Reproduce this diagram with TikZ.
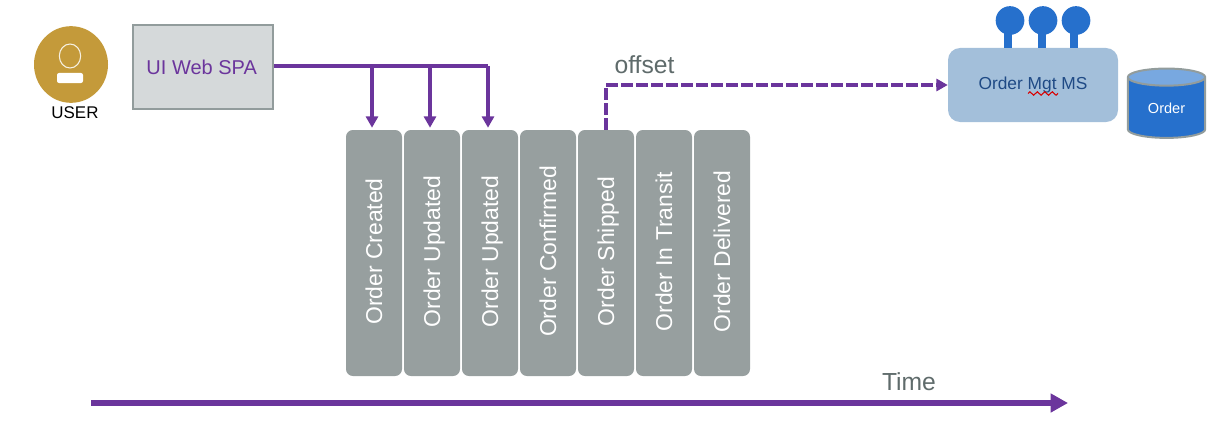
\documentclass[tikz,border=0pt]{standalone}
\usepackage{fontspec}
\setmainfont{Liberation Sans}
\usetikzlibrary{arrows.meta, shapes.geometric, decorations.pathmorphing}
\definecolor{flowpurple}{HTML}{6B359C}
\definecolor{bargray}{HTML}{979F9F}
\definecolor{edgegray}{HTML}{929C9C}
\definecolor{uifill}{HTML}{D5D9DA}
\definecolor{usergold}{HTML}{C49A3A}
\definecolor{msfill}{HTML}{A3BFDA}
\definecolor{mstext}{HTML}{1F4A85}
\definecolor{pinblue}{HTML}{2670CC}
\definecolor{dbtop}{HTML}{78A8E0}
\definecolor{labelgray}{HTML}{5F6B6B}
\newcommand{\eventlabel}[1]{\rotatebox{90}{\rule{0pt}{12pt}\hspace*{2.25pt}\smash{#1}}}
\tikzstyle{eventnode} = [rectangle, rounded corners=5.2pt,
minimum width=42pt,
minimum height=184.5pt,
inner sep=0pt,
text centered,
fill=bargray,
text=white,
font=\fontsize{17.2}{20}\selectfont]
\tikzstyle{uinode} = [rectangle,
minimum width=105pt,
minimum height=63pt,
line width=1.5pt,
draw=edgegray,
fill=uifill,
text=flowpurple,
font=\fontsize{15}{18}\selectfont]
\tikzstyle{msnode} = [rectangle, rounded corners=9pt,
minimum width=127.5pt,
minimum height=55.5pt,
fill=msfill,
text=mstext,
font=\fontsize{13}{16}\selectfont]
\tikzstyle{dbnode} = [cylinder, shape border rotate=90, shape aspect=0.46,
minimum width=58pt,
minimum height=52pt,
inner sep=0pt,
line width=1.5pt,
draw=edgegray,
cylinder uses custom fill,
cylinder body fill=pinblue,
cylinder end fill=dbtop,
text=white,
font=\fontsize{10.9}{13}\selectfont]
\tikzstyle{pinhead} = [circle, fill=pinblue, inner sep=0pt, minimum size=21.5pt]
\tikzstyle{pinstem} = [line width=6pt, draw=pinblue]
\tikzstyle{plainlabel} = [inner sep=0pt, text=labelgray, font=\fontsize{18.5}{22}\selectfont]
\tikzstyle{arrow} = [line width=3pt, draw=flowpurple, -{Triangle[length=8.5pt,width=9pt]}]
\tikzstyle{dasharrow} = [arrow, dash pattern=on 9pt off 2.25pt]
\tikzstyle{timearrow} = [line width=4pt, draw=flowpurple, -{Triangle[length=13pt,width=13.5pt]}]
\begin{document}
\begin{tikzpicture}[x=0.75pt, y=-0.75pt, node distance=43.5pt]
\useasboundingbox (0,0) rectangle (1226,428);

% user
\node (user) [ellipse, fill=usergold, minimum width=55.5pt, minimum height=57.5pt, inner sep=0pt] at (71,64.5) {};
\node (head) [ellipse, draw=white!85!usergold, line width=0.8pt, minimum width=16pt, minimum height=18pt, inner sep=0pt] at (70,56) {};
\node (body) [rectangle, rounded corners=1.5pt, fill=white, minimum width=19.5pt, minimum height=7.5pt, inner sep=0pt] at (70,78) {};
\node (userlabel) [inner sep=0pt, font=\fontsize{12.7}{15}\selectfont] at (75,113) {USER};

\node (ui) [uinode] at (203,67) {\hspace*{-2pt}UI Web SPA};

% events
\node (created) [eventnode] at (374,253) {\eventlabel{Order Created}};
\node (updatedone) [eventnode, right of=created] {\eventlabel{Order Updated}};
\node (updatedtwo) [eventnode, right of=updatedone] {\eventlabel{Order Updated}};
\node (confirmed) [eventnode, right of=updatedtwo] {\eventlabel{Order Confirmed}};
\node (shipped) [eventnode, right of=confirmed] {\eventlabel{Order Shipped}};
\node (transit) [eventnode, right of=shipped] {\eventlabel{Order In Transit}};
\node (delivered) [eventnode, right of=transit] {\eventlabel{Order Delivered}};

% service
\node (ms) [msnode] at (1033,85) {Order Mgt MS};
\draw [red!85!black, line width=0.8pt, decorate, decoration={zigzag, segment length=5.6pt, amplitude=1.3pt}] (1028,93.5) -- (1058,93.5);
\node (pinone) [pinhead] at (1010,20.5) {};
\node (pintwo) [pinhead] at (1043,20.5) {};
\node (pinthree) [pinhead] at (1076,20.5) {};
\draw [pinstem] (1008,25) -- (1008,48);
\draw [pinstem] (1042,25) -- (1042,48);
\draw [pinstem] (1074,25) -- (1074,48);
\node (orderdb) [dbnode] at (1166.5,108) {Order};

\node (offset) [plainlabel] at (644.5,65) {offset};
\node (time) [plainlabel] at (909,382) {Time};

\coordinate (busone) at (372,66);
\coordinate (bustwo) at (430,66);
\coordinate (busthree) at (488,66);
\coordinate (timestart) at (91,403);
\coordinate (timeend) at (1068,403);

\draw [line width=3pt, draw=flowpurple] (ui.east |- busone) -- (busthree);
\draw [arrow, shorten >=1.5pt] (busone) -- (busone |- created.north);
\draw [arrow, shorten >=1.5pt] (bustwo) -- (bustwo |- updatedone.north);
\draw [arrow, shorten >=1.5pt] (busthree) -- (busthree |- updatedtwo.north);

\draw [dasharrow] (shipped.north) |- (ms.west);

\draw [timearrow] (timestart) -- (timeend);

\end{tikzpicture}
\end{document}
